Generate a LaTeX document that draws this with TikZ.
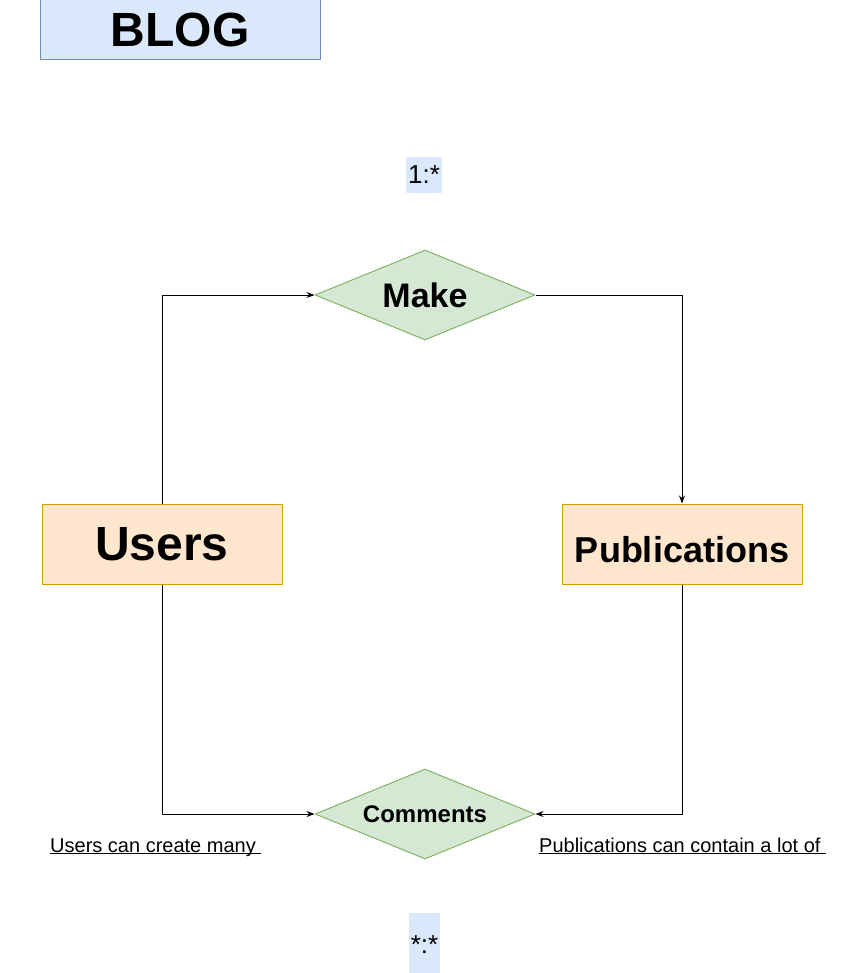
\documentclass[tikz,border=0pt]{standalone}
\usepackage{fontspec}
\setmainfont{Liberation Sans}
\usepackage{tikz}
\usetikzlibrary{shapes.geometric, arrows.meta}
\definecolor{titlefill}{HTML}{DAE8FC}
\definecolor{titleline}{HTML}{6C8EBF}
\definecolor{entityfill}{HTML}{FFE6CC}
\definecolor{entityline}{HTML}{D79B00}
\definecolor{relfill}{HTML}{D5E8D4}
\definecolor{relline}{HTML}{82B366}
\newcommand{\notetxt}[1]{\underline{\raisebox{0pt}[\height][0pt]{#1}}}

\tikzset{
    titlebox/.style={draw=titleline, fill=titlefill, line width=1pt, minimum width=280pt, minimum height=60pt, inner sep=0pt, font=\fontsize{48}{56}\selectfont\bfseries},
    cardbox/.style={fill=titlefill, inner sep=0pt, font=\fontsize{26}{30}\selectfont},
    entitybox/.style={draw=entityline, fill=entityfill, line width=1pt, minimum width=240pt, minimum height=80pt, inner sep=0pt},
    relbox/.style={diamond, aspect=2.44, draw=relline, fill=relfill, line width=1pt, minimum width=220pt, minimum height=90pt, inner sep=0pt, font=\bfseries},
    notetext/.style={inner sep=0pt, anchor=base west, font=\fontsize{20}{24}\selectfont}
}

\begin{document}
\begin{tikzpicture}[x=1pt, y=-1pt, line join=round, >={Stealth[length=8pt,width=6pt]}]
    \useasboundingbox (0,0) rectangle (848,973);

    % Titre
    \node[titlebox] (blog) at (180,30) {BLOG};

    % Cardinalités
    \node[cardbox, minimum width=36pt, minimum height=36pt] (cardmake) at (424,175) {1:*};
    \node[cardbox, minimum width=31pt, minimum height=64pt] (cardcomments) at (424.5,945) {*:*};

    % Entités
    \node[entitybox, font=\fontsize{48}{56}\selectfont\bfseries] (users) at (162,544) {Users};
    \node[entitybox, text height=36pt, text depth=0pt, font=\fontsize{36}{42}\selectfont\bfseries] (pubs) at (682,544) {Publications};

    % Relations
    \node[relbox, font=\fontsize{34}{40}\selectfont\bfseries] (make) at (425,295) {Make};
    \node[relbox, font=\fontsize{24}{28}\selectfont\bfseries] (comments) at (425,814) {Comments};

    % Notes soulignées
    \node[notetext] (noteusers) at (50,852) {\notetxt{Users can create many\ }};
    \node[notetext] (notepubs) at (539,852) {\notetxt{Publications can contain a lot of\ }};

    % Liaisons
    \draw[->, line width=1pt] (users.north) |- (make.west);
    \draw[->, line width=1pt] (make.east) -| (pubs.north);
    \draw[->, line width=1pt] (users.south) |- (comments.west);
    \draw[->, line width=1pt] (pubs.south) |- (comments.east);
\end{tikzpicture}
\end{document}
